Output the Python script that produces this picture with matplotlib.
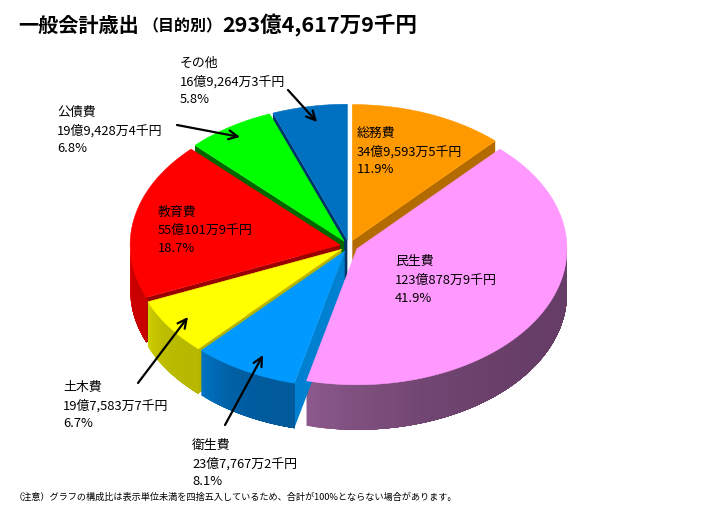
import numpy as np
import matplotlib.pyplot as plt
from matplotlib.patches import Polygon
from matplotlib.colors import to_rgb

plt.rcParams['font.family'] = ['Noto Sans CJK JP', 'DejaVu Sans']

# 金額（千円）
names = ['総務費', '民生費', '衛生費', '土木費', '教育費', '公債費', 'その他']
amounts = [3495935, 12308789, 2377672, 1975837, 5501019, 1994284, 1692643]
total = 29346179

top_colors = ['#FF9900', '#FF99FF', '#0099FF', '#FFFF00', '#FF0000', '#00FF00', '#0070C0']
side_light = ['#B36B00', '#8C5A8C', '#0074C4', '#D0D000', '#E00000', '#00A000', '#004A80']
side_dark = ['#B36B00', '#663D66', '#005A9C', '#B8B800', '#C80000', '#008000', '#003366']
face_colors = ['#B36B00', '#663D66', '#0080D0', '#B3B300', '#990000', '#006600', '#003366']

# label line centres (x, first y)
label_pos = [(357, 133), (395, 262), (192, 445), (63, 387), (158, 212), (57, 112), (180, 63)]
arrows = {2: ((225, 425), (263, 355)), 3: ((138, 383), (188, 317)),
          5: ((177, 125), (240, 137)), 6: ((288, 90), (317, 122))}


def yen(k):
    oku, rest = divmod(k, 100000)
    man, sen = divmod(rest, 10)
    return f"{oku}億{man:,}万{sen}千円"


cx, cy, rx, ry, depth, gap = 349, 246, 210, 136, 45, 9


def pt(t, r, m, z=0):
    x = cx + rx * r * np.cos(t) + gap * np.cos(m)
    y = cy - ry * r * np.sin(t) - gap * (ry / rx) * np.sin(m) + z
    return (x, y)


def mix(c1, c2, w):
    a, b = np.array(to_rgb(c1)), np.array(to_rgb(c2))
    return tuple(a * (1 - w) + b * w)


fig = plt.figure(figsize=(7.11, 5.24), dpi=100)
ax = fig.add_axes([0, 0, 1, 1])
ax.set_xlim(0, 711)
ax.set_ylim(524, 0)
ax.axis('off')

cum = np.concatenate([[0], np.cumsum(amounts)])
groups = []
tops = []
for i in range(len(amounts)):
    t2 = np.radians(90 - 360 * cum[i] / total)
    t1 = np.radians(90 - 360 * cum[i + 1] / total)
    m = (t1 + t2) / 2
    polys = []
    # radial faces
    for t, vis in ((t1, np.cos(t1) > 0), (t2, np.cos(t2) < 0)):
        if vis:
            v = [pt(t, 0, m), pt(t, 1, m), pt(t, 1, m, depth), pt(t, 0, m, depth)]
            polys.append((v, face_colors[i]))
    # curved outer side (front half only), stacked strips so no seams
    lo, hi = max(t1, -np.pi), min(t2, 0)
    if hi > lo:
        n = max(3, int(np.degrees(hi - lo) / 1.5))
        ts = np.linspace(lo, hi, n + 1)
        for j in range(n):
            s = (j + 0.5) / n
            w = 1 - (1 - s) ** 3
            col = mix(side_light[i], side_dark[i], w)
            arc = np.linspace(ts[j], hi, max(2, n - j + 1))
            v = [pt(a, 1, m) for a in arc] + [pt(a, 1, m, depth) for a in arc[::-1]]
            polys.append((v, col))
    groups.append((np.sin(m), polys))
    arc = np.linspace(t1, t2, 120)
    tops.append(([pt(0, 0, m)] + [pt(t, 1, m) for t in arc], top_colors[i]))

for key, polys in sorted(groups, key=lambda g: -g[0]):
    for v, col in polys:
        ax.add_patch(Polygon(v, closed=True, facecolor=col, edgecolor='none'))
for v, col in tops:
    ax.add_patch(Polygon(v, closed=True, facecolor=col, edgecolor=col, lw=0.4))

# labels
gaps = [0, 18.5, 36.5]
for i, name in enumerate(names):
    x, y = label_pos[i]
    lines = [name, yen(amounts[i]), f"{amounts[i] / total * 100:.1f}%"]
    for dy, s in zip(gaps, lines):
        ax.text(x, y + dy, s, fontsize=9.3, va='center', ha='left', color='black')

for i, (src, dst) in arrows.items():
    ax.annotate('', xy=dst, xytext=src,
                arrowprops=dict(arrowstyle='->', lw=1.6, color='black',
                                shrinkA=0, shrinkB=0, mutation_scale=16))

# title
fig.canvas.draw()
r = fig.canvas.get_renderer()
parts = [('一般会計歳出', 14.5, 0, 4), ('（目的別）', 11.5, 1, 0), (yen(total), 15.5, 0, 0)]
xpos = 18
for s, fs, dy, pad in parts:
    t = ax.text(xpos, 25 + dy, s, fontsize=fs, fontweight='bold', va='center', ha='left')
    bb = t.get_window_extent(renderer=r)
    xpos += bb.width + pad

ax.text(14, 497, '（注意）グラフの構成比は表示単位未満を四捨五入しているため、合計が100%とならない場合があります。',
        fontsize=6.6, va='center', ha='left')

fig.savefig('out.png', dpi=100)
